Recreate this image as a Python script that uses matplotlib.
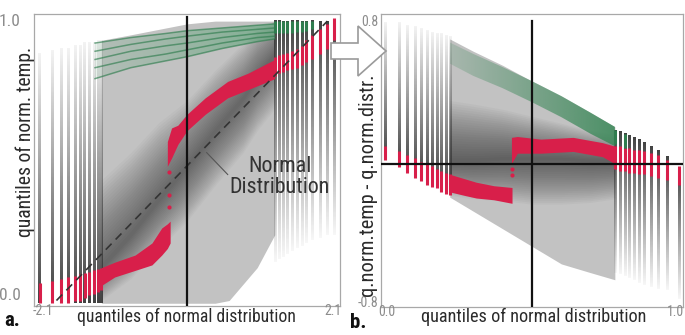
import numpy as np
import matplotlib
matplotlib.use("Agg")
import matplotlib.pyplot as plt
from matplotlib import font_manager
from matplotlib.colors import to_rgba
from matplotlib.patches import Polygon

# ---------------- panel a: quantiles of norm. temp. vs normal quantiles ----------------
# tail quantile positions (vertical strips)
A_LEFT_X = [-2.10, -1.92, -1.79, -1.69, -1.59, -1.52, -1.46, -1.39, -1.33, -1.27, -1.22]
A_LEFT_TOP = [0.88, 0.89, 0.90, 0.90, 0.91, 0.91, 0.92, 0.92, 0.92, 0.93, 0.93]
A_LEFT_RED_LO = [-0.03, -0.03, -0.03, -0.03, -0.02, -0.02, -0.01, 0.0, 0.005, 0.01, 0.02]
A_LEFT_RED_HI = [0.045, 0.05, 0.06, 0.065, 0.07, 0.075, 0.08, 0.085, 0.09, 0.095, 0.10]

A_RIGHT_X = [1.25, 1.31, 1.37, 1.42, 1.50, 1.57, 1.64, 1.70, 1.78, 1.90, 2.00, 2.10]
A_RIGHT_BOT = [0.12, 0.13, 0.14, 0.15, 0.16, 0.17, 0.18, 0.19, 0.20, 0.21, 0.22, 0.22]
A_RIGHT_RED_LO = [0.80, 0.81, 0.815, 0.82, 0.825, 0.83, 0.84, 0.85, 0.86, 0.88, 0.90, 0.93]
A_RIGHT_RED_HI = [0.87, 0.875, 0.88, 0.885, 0.89, 0.90, 0.91, 0.93, 0.95, 0.97, 0.99, 1.01]
A_RIGHT_GREEN_LO = [0.955, 0.955, 0.955, 0.955, 0.955, 0.96, 0.96, 0.965, 0.97]

# body of the density cloud
CLOUD_A_X = [-1.22, -0.8, -0.4, 0.0, 0.4, 0.6, 0.8, 1.0, 1.25]
CLOUD_A_TOP = [0.93, 0.95, 0.97, 0.99, 1.0, 1.0, 1.0, 1.0, 1.0]
CLOUD_A_BOT = [-0.03, -0.03, -0.03, -0.03, -0.03, -0.02, 0.04, 0.10, 0.22]
RIDGE_A = [0.10, 0.22, 0.35, 0.47, 0.60, 0.66, 0.72, 0.80, 0.88]
RIDGE_A_UP = [0.32, 0.30, 0.28, 0.24, 0.22, 0.21, 0.20, 0.18, 0.14]
RIDGE_A_DN = [0.12, 0.16, 0.18, 0.20, 0.20, 0.20, 0.20, 0.20, 0.20]

# highlighted member (red) and warm members (green)
RED_A_LOW_X = [-1.22, -1.03, -0.74, -0.50, -0.36, -0.28, -0.24]
RED_A_LOW_LO = [0.035, 0.066, 0.09, 0.11, 0.146, 0.17, 0.19]
RED_A_LOW_HI = [0.10, 0.12, 0.146, 0.19, 0.245, 0.26, 0.27]
RED_A_UP_X = [-0.28, -0.22, -0.13, 0.0, 0.26, 0.58, 0.87, 1.25]
RED_A_UP_LO = [0.47, 0.50, 0.55, 0.60, 0.66, 0.72, 0.75, 0.79]
RED_A_UP_HI = [0.56, 0.61, 0.62, 0.66, 0.72, 0.78, 0.81, 0.86]
RED_A_DOT_X = [-0.26, -0.26, -0.26]
RED_A_DOT_Y = [0.45, 0.365, 0.32]

GREEN_A_X = [-1.31, -0.8, -0.3, 0.0, 0.5, 1.0, 1.25]
GREEN_A = [
    [0.92, 0.94, 0.955, 0.965, 0.975, 0.985, 0.99],
    [0.89, 0.915, 0.935, 0.945, 0.96, 0.97, 0.975],
    [0.86, 0.89, 0.91, 0.92, 0.94, 0.955, 0.96],
    [0.83, 0.86, 0.88, 0.895, 0.92, 0.94, 0.945],
    [0.79, 0.83, 0.855, 0.87, 0.90, 0.925, 0.935],
]

DASH_X = [-1.86, 2.0]
DASH_Y = [-0.02, 1.0]

# ---------------- panel b: detrended (q.norm.temp - q.norm.distr.) ----------------
B_LEFT_X = [0.0, 0.048, 0.075, 0.102, 0.122, 0.143, 0.16, 0.177, 0.19, 0.207, 0.22]
B_LEFT_TOP = [0.80, 0.80, 0.79, 0.78, 0.77, 0.76, 0.75, 0.74, 0.74, 0.73, 0.72]
B_LEFT_RED_HI = [0.10, 0.07, 0.05, 0.034, 0.01, 0.0, -0.01, -0.03, -0.04, -0.05, -0.06]
B_LEFT_RED_LO = [0.02, -0.02, -0.05, -0.08, -0.10, -0.12, -0.13, -0.14, -0.16, -0.17, -0.18]

B_RIGHT_X = [0.782, 0.799, 0.816, 0.83, 0.847, 0.864, 0.881, 0.905, 0.929, 0.96, 1.0]
B_RIGHT_TOP = [0.19, 0.18, 0.17, 0.16, 0.15, 0.135, 0.12, 0.10, 0.08, 0.04, -0.02]
B_RIGHT_RED_HI = [0.10, 0.10, 0.09, 0.09, 0.08, 0.08, 0.07, 0.06, 0.05, 0.02, -0.01]
B_RIGHT_RED_LO = [-0.03, -0.04, -0.04, -0.05, -0.05, -0.06, -0.06, -0.07, -0.08, -0.09, -0.12]
B_RIGHT_BOT = [-0.62, -0.63, -0.64, -0.65, -0.66, -0.68, -0.69, -0.70, -0.71, -0.72, -0.77]

CLOUD_B_X = [0.22, 0.30, 0.40, 0.50, 0.60, 0.70, 0.782]
CLOUD_B_TOP = [0.71, 0.64, 0.56, 0.47, 0.385, 0.29, 0.21]
CLOUD_B_BOT = [-0.19, -0.27, -0.37, -0.47, -0.57, -0.62, -0.66]
RIDGE_B = [0.02, 0.02, 0.03, 0.03, 0.03, 0.02, 0.02]
RIDGE_B_UP = [0.34, 0.32, 0.28, 0.24, 0.20, 0.17, 0.15]
RIDGE_B_DN = [0.20, 0.22, 0.24, 0.26, 0.26, 0.24, 0.22]
GREEN_B_HI = [0.69, 0.625, 0.55, 0.47, 0.385, 0.29, 0.21]
GREEN_B_LO = [0.57, 0.50, 0.43, 0.35, 0.265, 0.17, 0.10]

RED_B_LOW_X = [0.22, 0.27, 0.31, 0.37, 0.432]
RED_B_LOW_LO = [-0.16, -0.18, -0.195, -0.205, -0.225]
RED_B_LOW_HI = [-0.06, -0.085, -0.105, -0.125, -0.135]
RED_B_UP_X = [0.43, 0.45, 0.53, 0.64, 0.74, 0.782]
RED_B_UP_LO = [0.0, 0.06, 0.06, 0.07, 0.04, 0.0]
RED_B_UP_HI = [0.15, 0.155, 0.14, 0.15, 0.12, 0.10]
RED_B_DOT_X = [0.432, 0.432]
RED_B_DOT_Y = [-0.03, -0.065]

W, H = 685, 335
RED = "#d81f4a"
GREEN = "#2f7d4e"

_names = {f.name for f in font_manager.fontManager.ttflist}
FONT = next((n for n in ["Roboto Condensed", "PT Sans Narrow", "Fira Sans Condensed",
                         "Open Sans Condensed", "Liberation Sans Narrow", "Roboto"]
             if n in _names), "DejaVu Sans")
plt.rcParams["font.family"] = [FONT, "DejaVu Sans"]


def fig_xy(px, py):
    return px / W, 1 - py / H


def fit_text(fig, txt, target, vertical=False):
    # shrink/grow a text so its long side spans `target` pixels
    fig.canvas.draw()
    r = fig.canvas.get_renderer()
    bb = txt.get_window_extent(r)
    size = bb.height if vertical else bb.width
    txt.set_fontsize(txt.get_fontsize() * target / size)


def fade_strip(ax, x, y_lo, y_hi, width, a_lo, a_hi, color="#383838"):
    # thin vertical strip whose opacity changes from bottom to top
    rgba = np.zeros((256, 1, 4))
    rgba[..., :3] = to_rgba(color)[:3]
    rgba[:, 0, 3] = np.linspace(a_lo, a_hi, 256)
    ax.imshow(rgba, extent=(x - width / 2, x + width / 2, y_lo, y_hi), origin="lower",
              aspect="auto", interpolation="nearest", zorder=3)


def fade_band(ax, x, lo, hi, color, a_from, a_to, zorder=4):
    # band whose opacity grows from left to right
    poly = ax.fill_between(x, lo, hi, color="none", lw=0)
    rgba = np.zeros((2, 256, 4))
    rgba[..., :3] = to_rgba(color)[:3]
    rgba[..., 3] = np.linspace(a_from, a_to, 256)
    im = ax.imshow(rgba, extent=(min(x), max(x), min(lo), max(hi)),
                   aspect="auto", origin="lower", zorder=zorder, interpolation="bilinear")
    im.set_clip_path(poly.get_paths()[0], transform=ax.transData)


def draw_cloud(ax, x, bot, top, ridge, up, dn, base="#c2c2c2", layers=24, alpha=0.033):
    x = np.asarray(x)
    bot, top = np.asarray(bot), np.asarray(top)
    ridge, up, dn = np.asarray(ridge), np.asarray(up), np.asarray(dn)
    ax.fill_between(x, bot, top, color=base, lw=0, zorder=1)
    for k in range(1, layers + 1):
        f = k / layers
        lo = np.maximum(ridge - dn * f, bot)
        hi = np.minimum(ridge + up * f, top)
        ax.fill_between(x, lo, hi, color="#2a2a2a", alpha=alpha, lw=0, zorder=1)


def style_frame(ax):
    for s in ax.spines.values():
        s.set_color("#a8a8a8")
        s.set_linewidth(0.9)
    ax.set_xticks([])
    ax.set_yticks([])


def panel_a(ax):
    draw_cloud(ax, CLOUD_A_X, CLOUD_A_BOT, CLOUD_A_TOP, RIDGE_A, RIDGE_A_UP, RIDGE_A_DN)
    w = 2.3 * 4.36 / 306

    for i, x in enumerate(A_LEFT_X):
        fade_strip(ax, x, -0.03, A_LEFT_TOP[i], w, 0.95, 0.06)
        ax.vlines(x, A_LEFT_RED_LO[i], A_LEFT_RED_HI[i], color=RED, lw=2.2, zorder=5)
    for i, x in enumerate(A_RIGHT_X):
        fade_strip(ax, x, A_RIGHT_BOT[i], 1.0, w, 0.04, 0.95)
        ax.vlines(x, A_RIGHT_RED_LO[i], A_RIGHT_RED_HI[i], color=RED, lw=2.2, zorder=5)
        if i < len(A_RIGHT_GREEN_LO):
            ax.vlines(x, A_RIGHT_GREEN_LO[i], 1.0, color=GREEN, lw=2.2, zorder=5)

    fade_band(ax, GREEN_A_X, GREEN_A[-1], GREEN_A[0], "#6aa882", 0.15, 0.75)
    for g in GREEN_A:
        ax.plot(GREEN_A_X, g, color=GREEN, lw=1.1, alpha=0.65, zorder=4)

    ax.fill_between(RED_A_LOW_X, RED_A_LOW_LO, RED_A_LOW_HI, color=RED, lw=0, zorder=5)
    ax.fill_between(RED_A_UP_X, RED_A_UP_LO, RED_A_UP_HI, color=RED, lw=0, zorder=5)
    ax.scatter(RED_A_DOT_X, RED_A_DOT_Y, s=9, color=RED, lw=0, zorder=5)

    ax.plot(DASH_X, DASH_Y, color="#333333", lw=1.2, dashes=(5, 3.5), zorder=6)
    ax.plot([0, 0], [-0.04, 1.015], color="#111111", lw=1.6, zorder=7)
    ax.plot([0.28, 0.58], [0.52, 0.44], color="#555555", lw=0.8, zorder=7)

    ax.set_xlim(-2.18, 2.18)
    ax.set_ylim(-0.04, 1.026)
    style_frame(ax)


def panel_b(ax):
    draw_cloud(ax, CLOUD_B_X, CLOUD_B_BOT, CLOUD_B_TOP, RIDGE_B, RIDGE_B_UP, RIDGE_B_DN,
               alpha=0.036)
    w = 2.3 * 1.028 / 302

    for i, x in enumerate(B_LEFT_X):
        fade_strip(ax, x, B_LEFT_RED_LO[i], B_LEFT_TOP[i], w, 0.95, 0.06)
        ax.vlines(x, B_LEFT_RED_LO[i], B_LEFT_RED_HI[i], color=RED, lw=2.2, zorder=5)
    for i, x in enumerate(B_RIGHT_X):
        fade_strip(ax, x, B_RIGHT_BOT[i], B_RIGHT_TOP[i], w, 0.04, 0.95)
        ax.vlines(x, B_RIGHT_RED_LO[i], B_RIGHT_RED_HI[i], color=RED, lw=2.2, zorder=5)
        if B_RIGHT_TOP[i] - 0.08 > B_RIGHT_RED_HI[i]:
            ax.vlines(x, B_RIGHT_TOP[i] - 0.08, B_RIGHT_TOP[i], color=GREEN, lw=2.2, zorder=5)

    fade_band(ax, CLOUD_B_X, GREEN_B_LO, GREEN_B_HI, "#3f8a5c", 0.2, 0.9)

    ax.fill_between(RED_B_LOW_X, RED_B_LOW_LO, RED_B_LOW_HI, color=RED, lw=0, zorder=5)
    ax.fill_between(RED_B_UP_X, RED_B_UP_LO, RED_B_UP_HI, color=RED, lw=0, zorder=5)
    ax.scatter(RED_B_DOT_X, RED_B_DOT_Y, s=9, color=RED, lw=0, zorder=5)

    ax.plot([0.5, 0.5], [-0.815, 0.81], color="#111111", lw=1.6, zorder=7)
    ax.plot([-0.014, 1.014], [0, 0], color="#111111", lw=1.6, zorder=7)

    ax.set_xlim(-0.014, 1.014)
    ax.set_ylim(-0.815, 0.852)
    style_frame(ax)


def main():
    fig = plt.figure(figsize=(W / 100, H / 100), dpi=100)
    ax_a = fig.add_axes([34 / W, 1 - 306 / H, 306 / W, 292 / H])
    ax_b = fig.add_axes([381 / W, 1 - 307 / H, 302 / W, 293 / H])
    panel_a(ax_a)
    panel_b(ax_b)

    tick = dict(fontsize=10, color="#8c8c8c", va="center")
    big_tick = dict(fontsize=12.5, color="#8c8c8c", va="center")
    lab = dict(fontsize=12, color="#2b2b2b", va="center", ha="center")
    # panel a texts
    fig.text(*fig_xy(21, 21), "1.0", ha="right", **big_tick)
    fig.text(*fig_xy(21, 295), "0.0", ha="right", **big_tick)
    fig.text(*fig_xy(43, 311), "-2.1", ha="center", **tick)
    fig.text(*fig_xy(333, 311), "2.1", ha="center", **tick)
    xl_a = fig.text(*fig_xy(186, 317), "quantiles of normal distribution", **lab)
    yl_a = fig.text(*fig_xy(25, 142), "quantiles of norm. temp.", rotation=90, **lab)
    fig.text(*fig_xy(4, 321), "a.", fontsize=15, fontweight="bold", color="#111111",
             ha="left", va="center")
    note = ax_a.text(1.32, 0.43, "Normal\nDistribution", ha="center", va="center",
                     fontsize=13, color="#333333", linespacing=1.0, zorder=8)
    # panel b texts
    fig.text(*fig_xy(378, 22), "0.8", ha="right", **tick)
    fig.text(*fig_xy(378, 303), "-0.8", ha="right", **tick)
    fig.text(*fig_xy(387, 312), "0.0", ha="center", **tick)
    fig.text(*fig_xy(676, 312), "1.0", ha="center", **tick)
    xl_b = fig.text(*fig_xy(534, 317), "quantiles of normal distribution", **lab)
    yl_b = fig.text(*fig_xy(368, 186), "q.norm.temp - q.norm.distr.", rotation=90, **lab)
    fig.text(*fig_xy(350, 323), "b.", fontsize=15, fontweight="bold", color="#111111",
             ha="left", va="center")

    fit_text(fig, xl_a, 218)
    fit_text(fig, xl_b, 226)
    fit_text(fig, yl_a, 190, vertical=True)
    fit_text(fig, yl_b, 222, vertical=True)
    fit_text(fig, note, 100)

    # arrow from panel a to panel b
    pts = [(331, 43), (358, 43), (358, 26), (386, 51), (358, 76), (358, 59), (331, 59)]
    arrow = Polygon([fig_xy(px, py) for px, py in pts], closed=True, facecolor="white",
                    edgecolor="#9a9a9a", lw=1.2, transform=fig.transFigure, zorder=20)
    fig.add_artist(arrow)

    fig.savefig("out.png", dpi=100)
    plt.close(fig)


if __name__ == "__main__":
    main()
